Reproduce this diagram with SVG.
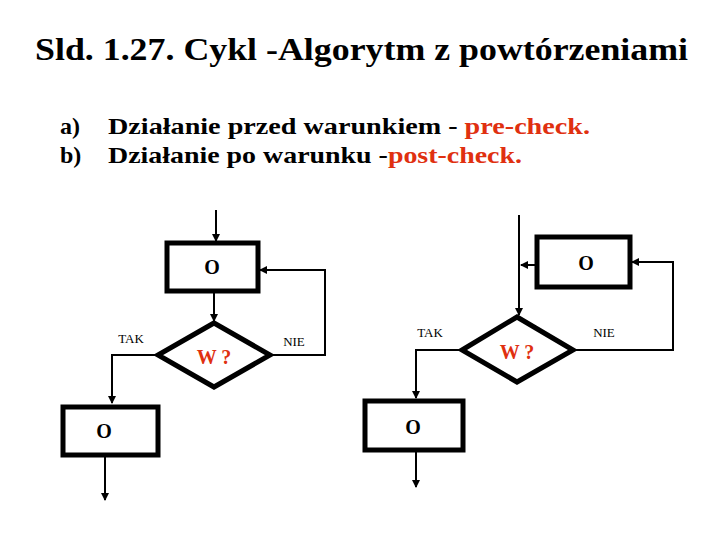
<svg xmlns="http://www.w3.org/2000/svg" width="720" height="540" viewBox="0 0 720 540">
<defs><marker id="a" markerWidth="8" markerHeight="8" refX="7" refY="4" orient="auto" markerUnits="userSpaceOnUse"><path d="M0,0 L8,4 L0,8 z" fill="#000"/></marker></defs>
<style>
.t{font-family:"Liberation Serif",serif;font-weight:bold}
.b{fill:#fff;stroke:#000;stroke-width:5}
.c{fill:none;stroke:#000;stroke-width:2}
.o{font-family:"Liberation Serif",serif;font-weight:bold;font-size:20px;text-anchor:middle}
.w{font-family:"Liberation Serif",serif;font-weight:bold;font-size:20px;fill:#e03010;text-anchor:middle}
.l{font-family:"Liberation Serif",serif;font-size:13px;text-anchor:middle}
</style>
<rect width="720" height="540" fill="#fff"/>
<text class="t" x="35" y="60" font-size="31" textLength="653" lengthAdjust="spacingAndGlyphs">Sld. 1.27. Cykl -Algorytm z powtórzeniami</text>
<text class="t" x="60" y="134" font-size="24">a)</text>
<text class="t" x="108" y="134" font-size="24" textLength="482" lengthAdjust="spacingAndGlyphs">Działanie przed warunkiem - <tspan fill="#e03010">pre-check.</tspan></text>
<text class="t" x="60" y="163" font-size="24">b)</text>
<text class="t" x="108" y="163" font-size="24" textLength="414" lengthAdjust="spacingAndGlyphs">Działanie po warunku -<tspan fill="#e03010">post-check.</tspan></text>
<g id="connectors">
<path class="c" d="M216,210 V241" marker-end="url(#a)"/>
<path class="c" d="M214,291 V321" marker-end="url(#a)"/>
<path class="c" d="M270,355 H325 V270 H260" marker-end="url(#a)"/>
<path class="c" d="M158,355 H112 V403" marker-end="url(#a)"/>
<path class="c" d="M105,455 V500" marker-end="url(#a)"/>
<path class="c" d="M519,215 V315" marker-end="url(#a)"/>
<path class="c" d="M537,265 H521" marker-end="url(#a)"/>
<path class="c" d="M573,350 H673 V262 H632" marker-end="url(#a)"/>
<path class="c" d="M462,350 H416 V398" marker-end="url(#a)"/>
<path class="c" d="M416,450 V487" marker-end="url(#a)"/>
</g>
<g id="n1"><rect class="b" x="167" y="243" width="91" height="48"/><text class="o" x="212" y="274">O</text></g>
<g id="n2"><polygon class="b" points="214,323 270,355 214,387 158,355"/><text class="w" x="214" y="364">W ?</text></g>
<g id="n3"><rect class="b" x="63" y="407" width="95" height="48"/><text class="o" x="104" y="438">O</text></g>
<g id="n4"><rect class="b" x="537" y="237" width="93" height="50"/><text class="o" x="586" y="270">O</text></g>
<g id="n5"><polygon class="b" points="517,317 573,350 517,382 462,350"/><text class="w" x="517" y="359">W ?</text></g>
<g id="n6"><rect class="b" x="365" y="401" width="98" height="49"/><text class="o" x="413" y="434">O</text></g>
<text class="l" x="131" y="343">TAK</text>
<text class="l" x="294" y="346">NIE</text>
<text class="l" x="430" y="337">TAK</text>
<text class="l" x="604" y="337">NIE</text>
</svg>
